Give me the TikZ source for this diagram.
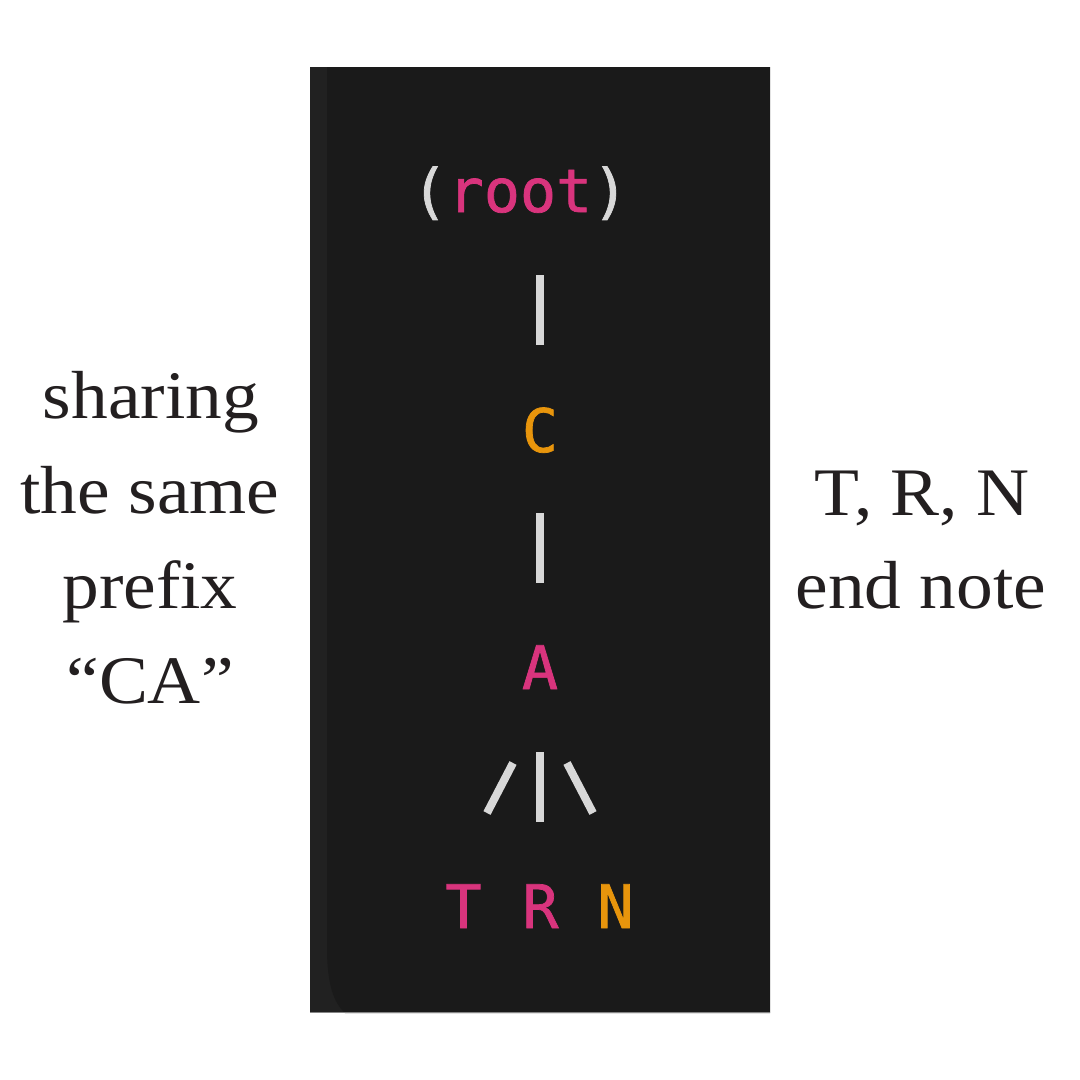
\documentclass[tikz,border=0pt]{standalone}
\usepackage{fontspec}
\setmainfont{Liberation Serif}
\newfontfamily\codefont[FakeBold=1.2]{DejaVu Sans Mono}
\usetikzlibrary{calc}

\definecolor{panelbg}{HTML}{1A1A1A}
\definecolor{panelstrip}{HTML}{212121}
\definecolor{panelrule}{HTML}{858585}
\definecolor{keypink}{HTML}{D9347D}
\definecolor{keyorange}{HTML}{E8950C}
\definecolor{barwhite}{HTML}{D8D8D8}
\definecolor{inktext}{HTML}{231F20}

\tikzset{
  code/.style={inner sep=0pt, anchor=base, font=\codefont\fontsize{60}{72}\selectfont},
  pinkkey/.style={code, text=keypink},
  orangekey/.style={code, text=keyorange},
  note/.style={inner sep=0pt, anchor=base, text=inktext, xscale=1.08,
    font=\fontsize{68}{80}\selectfont},
  bar/.style={draw=barwhite, line width=8pt, line cap=butt},
}

\begin{document}
\begin{tikzpicture}[x=1pt, y=-1pt]
  \useasboundingbox (0,0) rectangle (1080,1080);
  \fill[white] (0,0) rectangle (1080,1080);

  % editor panel with its gutter strip
  \fill[panelstrip] (310,67) rectangle (770,1013);
  \fill[panelbg] (327,67) -- (327,948)
    .. controls (327,985) and (334,1003) .. (345,1013)
    -- (770,1013) -- (770,67) -- cycle;
  \draw[panelrule, line width=1.5pt] (310,1012.5) -- (770,1012.5);

  % trie keys
  \node[code] (root) at (520,212)
    {\textcolor{barwhite}{(}\textcolor{keypink}{root}\textcolor{barwhite}{)}};
  \node[orangekey] (C) at (540,452) {C};
  \node[pinkkey]   (A) at (540,689) {A};
  \node[pinkkey]   (T) at (463.5,928) {T};
  \node[pinkkey]   (R) at (540.5,928) {R};
  \node[orangekey] (N) at (615.5,928) {N};

  % branches
  \draw[bar, shorten <=63pt, shorten >=107pt] (root.base -| C.base) -- (C.base);
  \draw[bar, shorten <=61pt, shorten >=106pt] (C.base) -- (A.base);
  \draw[bar, shorten <=63pt, shorten >=106pt] (A.base) -- (A.base |- R.base);
  \coordinate (tl) at ($(A.base)+(-27,74)$);
  \coordinate (tb) at ($(A.base)+(-53,124)$);
  \coordinate (nl) at ($(A.base)+(27,74)$);
  \coordinate (nb) at ($(A.base)+(53,124)$);
  \draw[bar] (tl) -- (tb);
  \draw[bar] (nl) -- (nb);

  % side notes
  \node[note] (lft1) at (151,418) {sharing};
  \node[note] (lft2) at (150,513) {the same};
  \node[note] (lft3) at (150,608) {prefix};
  \node[note] (lft4) at (150,703) {“CA”};
  \node[note] (rgt1) at (922,515) {T, R, N};
  \node[note] (rgt2) at (921,608) {end note};
\end{tikzpicture}
\end{document}
